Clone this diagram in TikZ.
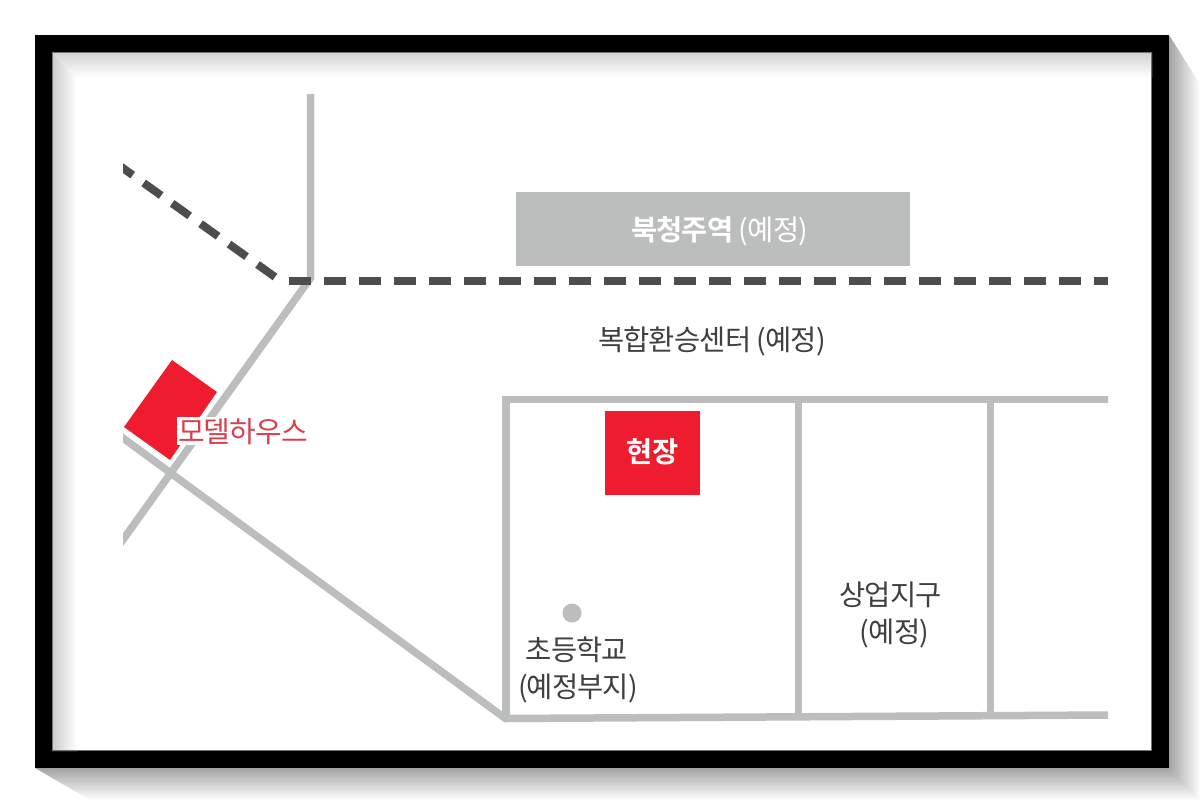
\documentclass[tikz,border=0pt]{standalone}
\usepackage{fontspec}
\setmainfont{Noto Sans CJK KR}[LetterSpace=-3]
\newfontfamily\krb{Noto Sans CJK KR}[BoldFont={Noto Sans CJK KR Bold},LetterSpace=-3]
\definecolor{roadgray}{HTML}{BCBEBD}
\definecolor{railgray}{HTML}{4D4D4F}
\definecolor{redmark}{HTML}{EE1C2E}
\definecolor{inkgray}{HTML}{404040}
\definecolor{redtext}{HTML}{D8404E}
\tikzset{
 roadline/.style={draw=roadgray,line width=7.5pt,line join=miter},
 railline/.style={draw=railgray,line width=8pt,dash pattern=on 21.5pt off 13.5pt},
 txtlabel/.style={font=\fontsize{28.5}{32}\selectfont,text=inkgray,inner sep=0pt,align=center},
 whitelabel/.style={font=\fontsize{28.5}{32}\selectfont,text=white,inner sep=0pt},
}
\begin{document}
\begin{tikzpicture}[x=1pt,y=-1pt]
\useasboundingbox (0,0) rectangle (1204,803);
\fill[white] (0,0) rectangle (1204,803);
% outer shadow
\shade[left color=black!36,right color=white] (1169,35) -- (1200,84) -- (1200,800) -- (1169,768) -- cycle;
\shade[top color=black!36,bottom color=white] (35,768) -- (90,800) -- (1200,800) -- (1169,768) -- cycle;
% frame
\fill[black] (35,35) rectangle (1169,768);
\fill[white] (52,52) rectangle (1152,751);
\shade[top color=black!18,bottom color=white] (52,52) -- (1152,52) -- (1152,77) -- (77,77) -- cycle;
\shade[left color=black!20,right color=white] (52,52) -- (77,77) -- (77,751) -- (52,751) -- cycle;
\draw[black!55,line width=1pt] (52.5,52.5) rectangle (1151.5,750.5);
% roads
\begin{scope}
\clip (123,60) rectangle (1108,745);
\draw[roadline] (310.5,94) -- (310.5,278) -- (112,555);
\draw[roadline] (112,430) -- (505.5,718.5) -- (1110,715);
\draw[roadline] (506,718) -- (506,399.5) -- (1110,399.5);
\draw[roadline] (798.5,399) -- (798.5,717);
\draw[roadline] (990.5,399) -- (990.5,716);
\draw[railline] (275,277) -- (113,161);
\draw[railline] (289,281) -- (1108,281);
\end{scope}
% station
\node[fill=roadgray,minimum width=394pt,minimum height=74pt,inner sep=0pt,anchor=north west] (station) at (516,192) {};
\node[whitelabel] (stationtext) at (719.5,231) {\krb\bfseries 북청주역\mdseries\ (예정)};
\node[txtlabel] (hub) at (712,341) {복합환승센터 (예정)};
% model house
\fill[redmark] (172,360) -- (217,392) -- (170,460) -- (124,427) -- cycle;
\node[txtlabel,fill=white,text=redtext,font=\fontsize{29}{32}\selectfont,inner xsep=1pt,inner ysep=0pt,text height=25pt,text depth=3pt] (model) at (243,431) {모델하우스};
% site
\node[fill=redmark,minimum width=95pt,minimum height=84pt,inner sep=0pt,anchor=north west] (site) at (605,411) {};
\node[whitelabel] (sitetext) at (652.5,452) {\krb\bfseries 현장};
% school
\node[circle,fill=roadgray,minimum size=19pt,inner sep=0pt] (dot) at (572,613) {};
\node[txtlabel] (school) at (577,650) {초등학교};
\node[txtlabel] (schoolb) at (578,688) {(예정부지)};
\node[txtlabel] (biz) at (890.5,595) {상업지구};
\node[txtlabel] (bizb) at (894.5,633) {(예정)};
\end{tikzpicture}
\end{document}
